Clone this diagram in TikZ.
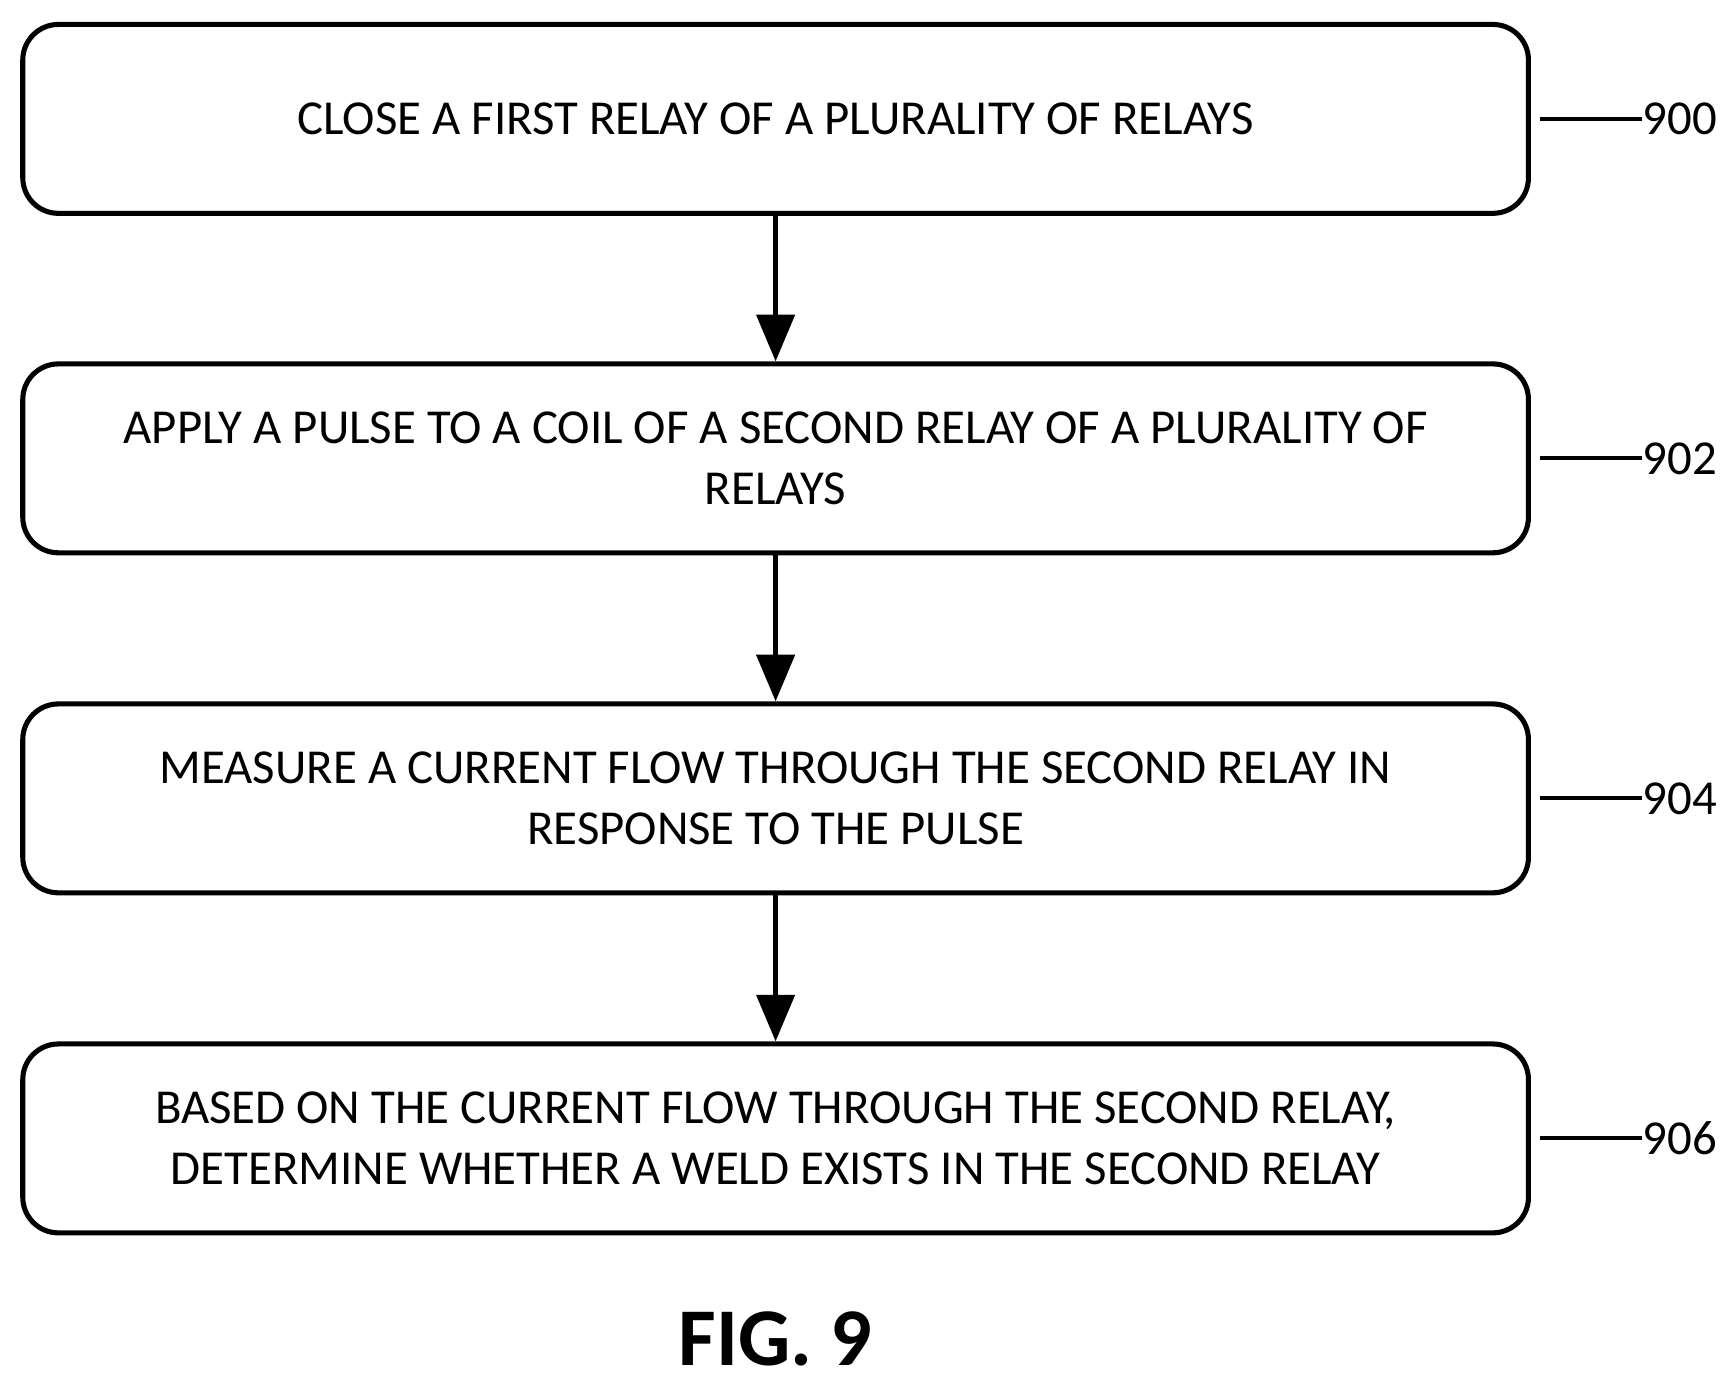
\documentclass[tikz,border=0pt]{standalone}
\usepackage{fontspec}
\setmainfont{Carlito}
\usetikzlibrary{positioning,arrows.meta}
\tikzset{
  stepbox/.style={draw, line width=1.3pt, rounded corners=0.32cm, minimum width=13.55cm, minimum height=1.7cm, align=center, font=\fontsize{12.5}{15.5}\selectfont},
  flow/.style={-{Triangle[length=0.42cm,width=0.34cm]}, line width=1.3pt},
  tag/.style={font=\fontsize{12.5}{14}\selectfont, anchor=west, inner sep=0pt}
}
\begin{document}
\begin{tikzpicture}
  \useasboundingbox (0,0) rectangle (15.56,-12.45);
  % steps
  \node[stepbox] (s900) at (6.98,-1.07) {CLOSE A FIRST RELAY OF A PLURALITY OF RELAYS};
  \node[stepbox] (s902) at (6.98,-4.125) {APPLY A PULSE TO A COIL OF A SECOND RELAY OF A PLURALITY OF\\RELAYS};
  \node[stepbox] (s904) at (6.98,-7.185) {MEASURE A CURRENT FLOW THROUGH THE SECOND RELAY IN\\RESPONSE TO THE PULSE};
  \node[stepbox] (s906) at (6.98,-10.245) {BASED ON THE CURRENT FLOW THROUGH THE SECOND RELAY,\\DETERMINE WHETHER A WELD EXISTS IN THE SECOND RELAY};
  % arrows
  \draw[flow] (s900) -- (s902);
  \draw[flow] (s902) -- (s904);
  \draw[flow] (s904) -- (s906);
  % reference numerals
  \foreach \n in {900,902,904,906}{
    \node[tag] (t\n) at ([xshift=1.0cm]s\n.east) {\n};
    \draw[line width=1pt] ([xshift=0.08cm]s\n.east) -- (t\n.west);
  }
  \node[font=\bfseries\fontsize{21}{24}\selectfont] (fig) at (6.98,-12.05) {FIG. 9};
\end{tikzpicture}
\end{document}
